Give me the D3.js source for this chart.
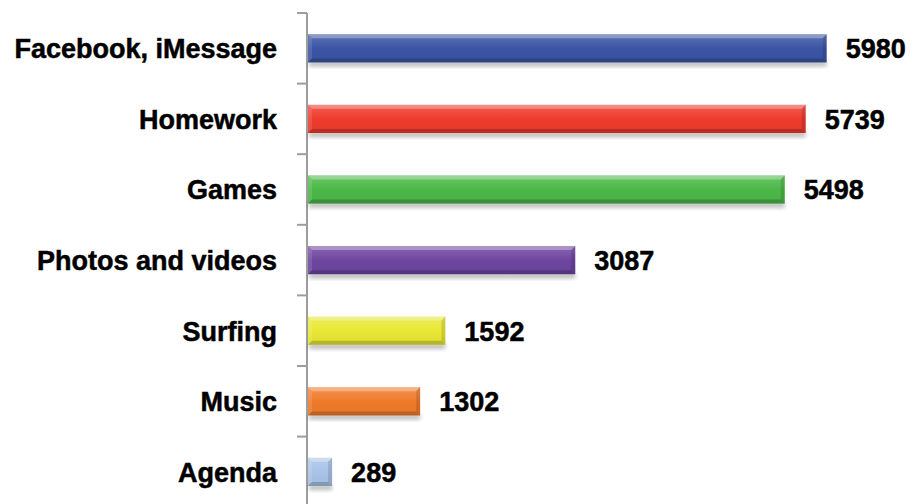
<!DOCTYPE html>
<html><head><meta charset="utf-8">
<script src="https://cdn.jsdelivr.net/npm/d3@7"></script>
<style>html,body{margin:0;padding:0;background:#fff;}svg{display:block;}</style>
</head><body>
<svg id="chart" width="920" height="504"></svg>
<script>
const categories = ["Facebook, iMessage","Homework","Games","Photos and videos","Surfing","Music","Agenda"];
const values = [5980,5739,5498,3087,1592,1302,289];
const colors = ["#3B55A5","#EE3B2D","#4CB848","#6F46A0","#E9E836","#EF7B2B","#A8C4E8"];

const svg = d3.select("#chart");
const axisX = 307;
const x = d3.scaleLinear().domain([0,7000]).range([axisX, axisX + 608.3]);
const y = d3.scaleBand().domain(categories).range([13, 507.2]).paddingInner(0.6).paddingOuter(0.3);
const yTicks = d3.scaleBand().domain(categories).range([13, 507.2]);

const defs = svg.append("defs");
const blur = defs.append("filter").attr("id","sh").attr("x","-5%").attr("y","-50%").attr("width","110%").attr("height","200%");
blur.append("feGaussianBlur").attr("stdDeviation",2.2);

colors.forEach((c,i)=>{
  const g = defs.append("linearGradient").attr("id","g"+i).attr("x1",0).attr("y1",0).attr("x2",0).attr("y2",1);
  const col = d3.color(c);
  g.append("stop").attr("offset","0%").attr("stop-color", d3.interpolateRgb(c,"#fff")(0.18));
  g.append("stop").attr("offset","50%").attr("stop-color", c);
  g.append("stop").attr("offset","100%").attr("stop-color", col.darker(0.15));
});

// axis line and ticks
svg.append("line").attr("x1",axisX).attr("x2",axisX).attr("y1",13).attr("y2",504)
  .attr("stroke","#9d9d9d").attr("stroke-width",2);
const tickPos = categories.map(c=>yTicks(c)).concat([yTicks(categories[categories.length-1])+yTicks.bandwidth()]);
svg.selectAll(".tk").data(tickPos).join("line").attr("class","tk")
  .attr("x1",axisX-10).attr("x2",axisX).attr("y1",d=>d).attr("y2",d=>d)
  .attr("stroke","#9d9d9d").attr("stroke-width",2);

const bw = y.bandwidth();
const bars = svg.selectAll(".bar").data(categories).join("g").attr("class","bar");
// shadow
bars.append("rect")
  .attr("x", axisX+2).attr("y", d=>y(d)+bw-1)
  .attr("width", (d,i)=>Math.max(0,x(values[i])-axisX-2)).attr("height",5)
  .attr("fill","#000").attr("opacity",0.28).attr("filter","url(#sh)");
bars.append("rect")
  .attr("x", axisX+1).attr("y", d=>y(d))
  .attr("width", (d,i)=>x(values[i])-axisX-1).attr("height", bw)
  .attr("fill",(d,i)=>`url(#g${i})`);
const b = 4;
// top bevel (light)
bars.append("path").attr("d",(d,i)=>{
  const x0=axisX+1, x1=x(values[i]), y0=y(d);
  return `M${x0},${y0}L${x1},${y0}L${x1-b},${y0+b}L${x0+b},${y0+b}Z`;
}).attr("fill","#fff").attr("opacity",0.3);
// left bevel
bars.append("path").attr("d",(d,i)=>{
  const x0=axisX+1, y0=y(d), y1=y0+bw;
  return `M${x0},${y0}L${x0+b},${y0+b}L${x0+b},${y1-b}L${x0},${y1}Z`;
}).attr("fill","#fff").attr("opacity",0.12);
// right bevel (dark)
bars.append("path").attr("d",(d,i)=>{
  const x1=x(values[i]), y0=y(d), y1=y0+bw;
  return `M${x1},${y0}L${x1-b},${y0+b}L${x1-b},${y1-b}L${x1},${y1}Z`;
}).attr("fill","#000").attr("opacity",0.12);
// bottom bevel (dark)
bars.append("path").attr("d",(d,i)=>{
  const x0=axisX+1, x1=x(values[i]), y1=y(d)+bw;
  return `M${x0},${y1}L${x1},${y1}L${x1-b},${y1-b}L${x0+b},${y1-b}Z`;
}).attr("fill","#000").attr("opacity",0.18);

// category labels
svg.selectAll(".cat").data(categories).join("text").attr("class","cat")
  .attr("x",277).attr("y",d=>y(d)+bw/2).attr("dy","0.37em")
  .attr("text-anchor","end")
  .attr("font-family","'Liberation Sans', Arial, sans-serif").attr("font-weight","bold")
  .attr("font-size",27).attr("fill","#000").attr("stroke","#000").attr("stroke-width",0.5)
  .text(d=>d);

// value labels
svg.selectAll(".val").data(categories).join("text").attr("class","val")
  .attr("x",(d,i)=>x(values[i])+19).attr("y",d=>y(d)+bw/2).attr("dy","0.37em")
  .attr("font-family","'Liberation Sans', Arial, sans-serif").attr("font-weight","bold")
  .attr("font-size",27).attr("fill","#000").attr("stroke","#000").attr("stroke-width",0.5)
  .text((d,i)=>values[i]);
</script>
</body></html>
